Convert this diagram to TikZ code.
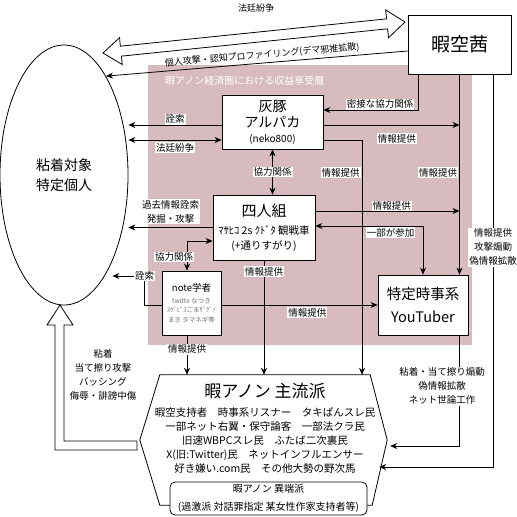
\documentclass[tikz,border=0pt]{standalone}
\usepackage{fontspec}
\setmainfont{Noto Sans CJK JP}
\usetikzlibrary{shapes.geometric, arrows.meta}
\definecolor{anonPink}{HTML}{D8BBBE}
\definecolor{noteGray}{HTML}{707070}
\tikzset{
  box/.style={draw, fill=white, line width=0.8pt, inner sep=2pt, align=center},
  lbl/.style={fill=white, inner sep=1pt, align=center, font=\fontsize{9.5}{14}\selectfont},
  arr/.style={draw, line width=0.8pt, -{Stealth[length=7pt,width=6pt]}},
  arrs/.style={draw, line width=0.8pt, {Stealth[length=7pt,width=6pt]}-{Stealth[length=7pt,width=6pt]}},
  hollow/.style={draw, fill=white, line width=0.8pt},
}

\begin{document}
\begin{tikzpicture}[x=1pt, y=-1pt]
  \useasboundingbox (0,0) rectangle (517,517);
  % profit layer
  \fill[anonPink] (148,65) rectangle (472,345);
  \node[anchor=west, text=white, inner sep=0, font=\fontsize{10}{12}\selectfont] (layer) at (165,81) {暇アノン経済圏における収益享受層};

  % actors
  \node[box, ellipse, minimum width=128, minimum height=260, font=\fontsize{14}{20}\selectfont] (target) at (64,175) {粘着対象\\特定個人};
  \node[box, minimum width=103, minimum height=59, font=\fontsize{19}{22}\selectfont] (himasora) at (459.5,44.5) {暇空茜};
  \node[box, minimum width=101, minimum height=54, font=\fontsize{14}{16}\selectfont] (alpaca) at (272.5,122) {灰豚\\アルパカ\\[-1pt]{\fontsize{10}{12}\selectfont (neko800)}};
  \node[box, minimum width=102, minimum height=65, font=\fontsize{10.5}{15}\selectfont] (yonin) at (264,227.5) {{\fontsize{15}{18}\selectfont 四人組}\\[3pt]ﾏｻﾋｺ 2s ｸﾄﾞﾀ 観戦車\\(+通りすがり)};
  \node[box, minimum width=59, minimum height=64, inner sep=1pt, font=\fontsize{6.5}{9.5}\selectfont] (note) at (191.5,303) {{\fontsize{9.5}{12}\selectfont note学者}\\[2pt]\textcolor{noteGray}{twitte なつき}\\\textcolor{noteGray}{ｽｹﾞﾋﾟｽごまｻﾞｸﾞｧ}\\\textcolor{noteGray}{まき タマネギ等}};
  \node[box, minimum width=90, minimum height=60, font=\fontsize{14.5}{23}\selectfont] (youtuber) at (423,305) {特定時事系\\YouTuber};

  % mainstream hexagon
  \node[minimum width=210, minimum height=130, inner sep=0] (main) at (265,440) {};
  \draw[hollow] (main.north west) -- (main.north east) -- ([xshift=17pt]main.east)
    -- ([xshift=2pt]main.south east) -- (main.south west) -- ([xshift=-20pt]main.west) -- cycle;
  \node[anchor=north, align=center, font=\fontsize{10.5}{14}\selectfont] (mainlist) at ([yshift=-5pt]main.north)
    {{\fontsize{17}{20}\selectfont 暇アノン 主流派}\\[4.5pt]
     暇空支持者　時事系リスナー　タキぱんスレ民\\
     一部ネット右翼・保守論客　一部法クラ民\\
     旧速WBPCスレ民　ふたば二次裏民\\
     X(旧:Twitter)民　ネットインフルエンサー\\
     好き嫌い.com民　その他大勢の野次馬};
  \node[box, rounded corners=5pt, minimum width=197, minimum height=33, inner sep=1pt, font=\fontsize{10}{18}\selectfont] (fringe) at (268.5,498.5) {暇アノン 異端派\\(過激派 対話罪指定 某女性作家支持者等)};

  % court dispute (hollow double arrow)
  \begin{scope}[shift={(103,53)}, rotate=5.86]
    \draw[hollow] (0,0) -- (18,-13.5) -- (18,-5) -- (285.6,-5) -- (285.6,-14) -- (303.6,0)
      -- (285.6,14) -- (285.6,5) -- (18,5) -- (18,13.5) -- cycle;
  \end{scope}
  \node[font=\fontsize{9}{11}\selectfont] (courtTop) at (256,8) {法廷紛争};

  % abuse towards target (hollow L arrow)
  \draw[hollow] (60,305) -- (73,325) -- (64,325) -- (64,441) -- (137,441) -- (137,450)
    -- (55,450) -- (55,325) -- (47,325) -- cycle;
  \node[lbl] (abuse) at (103,375) {粘着\\当て擦り攻撃\\バッシング\\侮辱・誹謗中傷};

  % himasora
  \draw[{Stealth[length=7pt,width=6pt]}-, line width=0.8pt] (target.67) -- node[sloped, above=2pt, pos=0.52, inner sep=1pt, font=\fontsize{9}{11}\selectfont] {個人攻撃・認知プロファイリング(デマ邪推拡散)} ([yshift=-6.5pt]himasora.west);
  \draw[arr] ([xshift=-41.5pt]himasora.south) |- node[pos=0.7, above, lbl] {密接な協力関係} ([yshift=12pt]alpaca.east);
  \draw[arr] (himasora.south) -- node[pos=0.49, left=1pt, lbl] {情報提供} (himasora.south |- youtuber.north);
  \draw[arr] ([xshift=33.5pt]himasora.south) |- node[pos=0.22, lbl] {情報提供\\攻撃煽動\\偽情報拡散} ([xshift=9pt, yshift=-27pt]main.east);

  % alpaca
  \draw[arr] ([yshift=-3pt]alpaca.east) -- node[pos=0.54, below=8pt, lbl] {情報提供} ([yshift=-3pt]alpaca.east -| himasora.south);
  \draw[arr] ([yshift=-18pt]alpaca.east) -| node[pos=0.57, left=1pt, lbl] {情報提供} ([xshift=97pt]main.north);
  \draw[arr] ([yshift=-3pt]alpaca.west) -- node[above, lbl] {詮索} ([yshift=-3pt]alpaca.west -| target.east);
  \draw[arrs] ([yshift=-18pt]alpaca.west) -- node[below=2pt, lbl] {法廷紛争} ([yshift=-18pt]alpaca.west -| target.east);
  \draw[arrs] (alpaca.south) -- node[lbl] {協力関係} (alpaca.south |- yonin.north);

  % yonin
  \draw[arr] (yonin.west) -- node[above=3pt, lbl] {過去情報詮索\\発掘・攻撃} (yonin.west -| target.east);
  \draw[arr] ([yshift=16.5pt]yonin.east) -- node[pos=0.53, yshift=5pt, lbl] {情報提供} ([yshift=16.5pt]yonin.east -| himasora.south);
  \draw[arrs] ([yshift=1.5pt]yonin.east) -| node[pos=0.35, below=1pt, lbl] {一部が参加} (youtuber.north);
  \draw[arr] (yonin.south) -- node[pos=0.1, lbl] {情報提供} (yonin.south |- main.north);

  % note
  \draw[arrs] ([xshift=-4.5pt]note.north) |- node[pos=0.23, xshift=-13pt, lbl] {協力関係} ([yshift=-13.5pt]yonin.west);
  \draw[arr] ([yshift=-2pt]note.west) -- ++(-17,0) |- node[pos=0.5, lbl] {詮索} ([xshift=-16pt, yshift=27pt]note.west -| target.east);
  \draw[arr] ([yshift=-2pt]note.east) -- node[pos=0.55, below=2pt, lbl] {情報提供} ([yshift=-2pt]note.east -| youtuber.west);
  \draw[arr] ([xshift=-4.5pt]note.south) -- node[pos=0.35, lbl] {情報提供} ([xshift=-4.5pt]note.south |- main.north);

  % youtuber
  \draw[arr] ([xshift=36pt]youtuber.south) |- node[pos=0.23, xshift=-17pt, lbl] {粘着・当て擦り煽動\\偽情報拡散\\ネット世論工作} ([xshift=20pt, yshift=-6pt]main.east);
\end{tikzpicture}
\end{document}
